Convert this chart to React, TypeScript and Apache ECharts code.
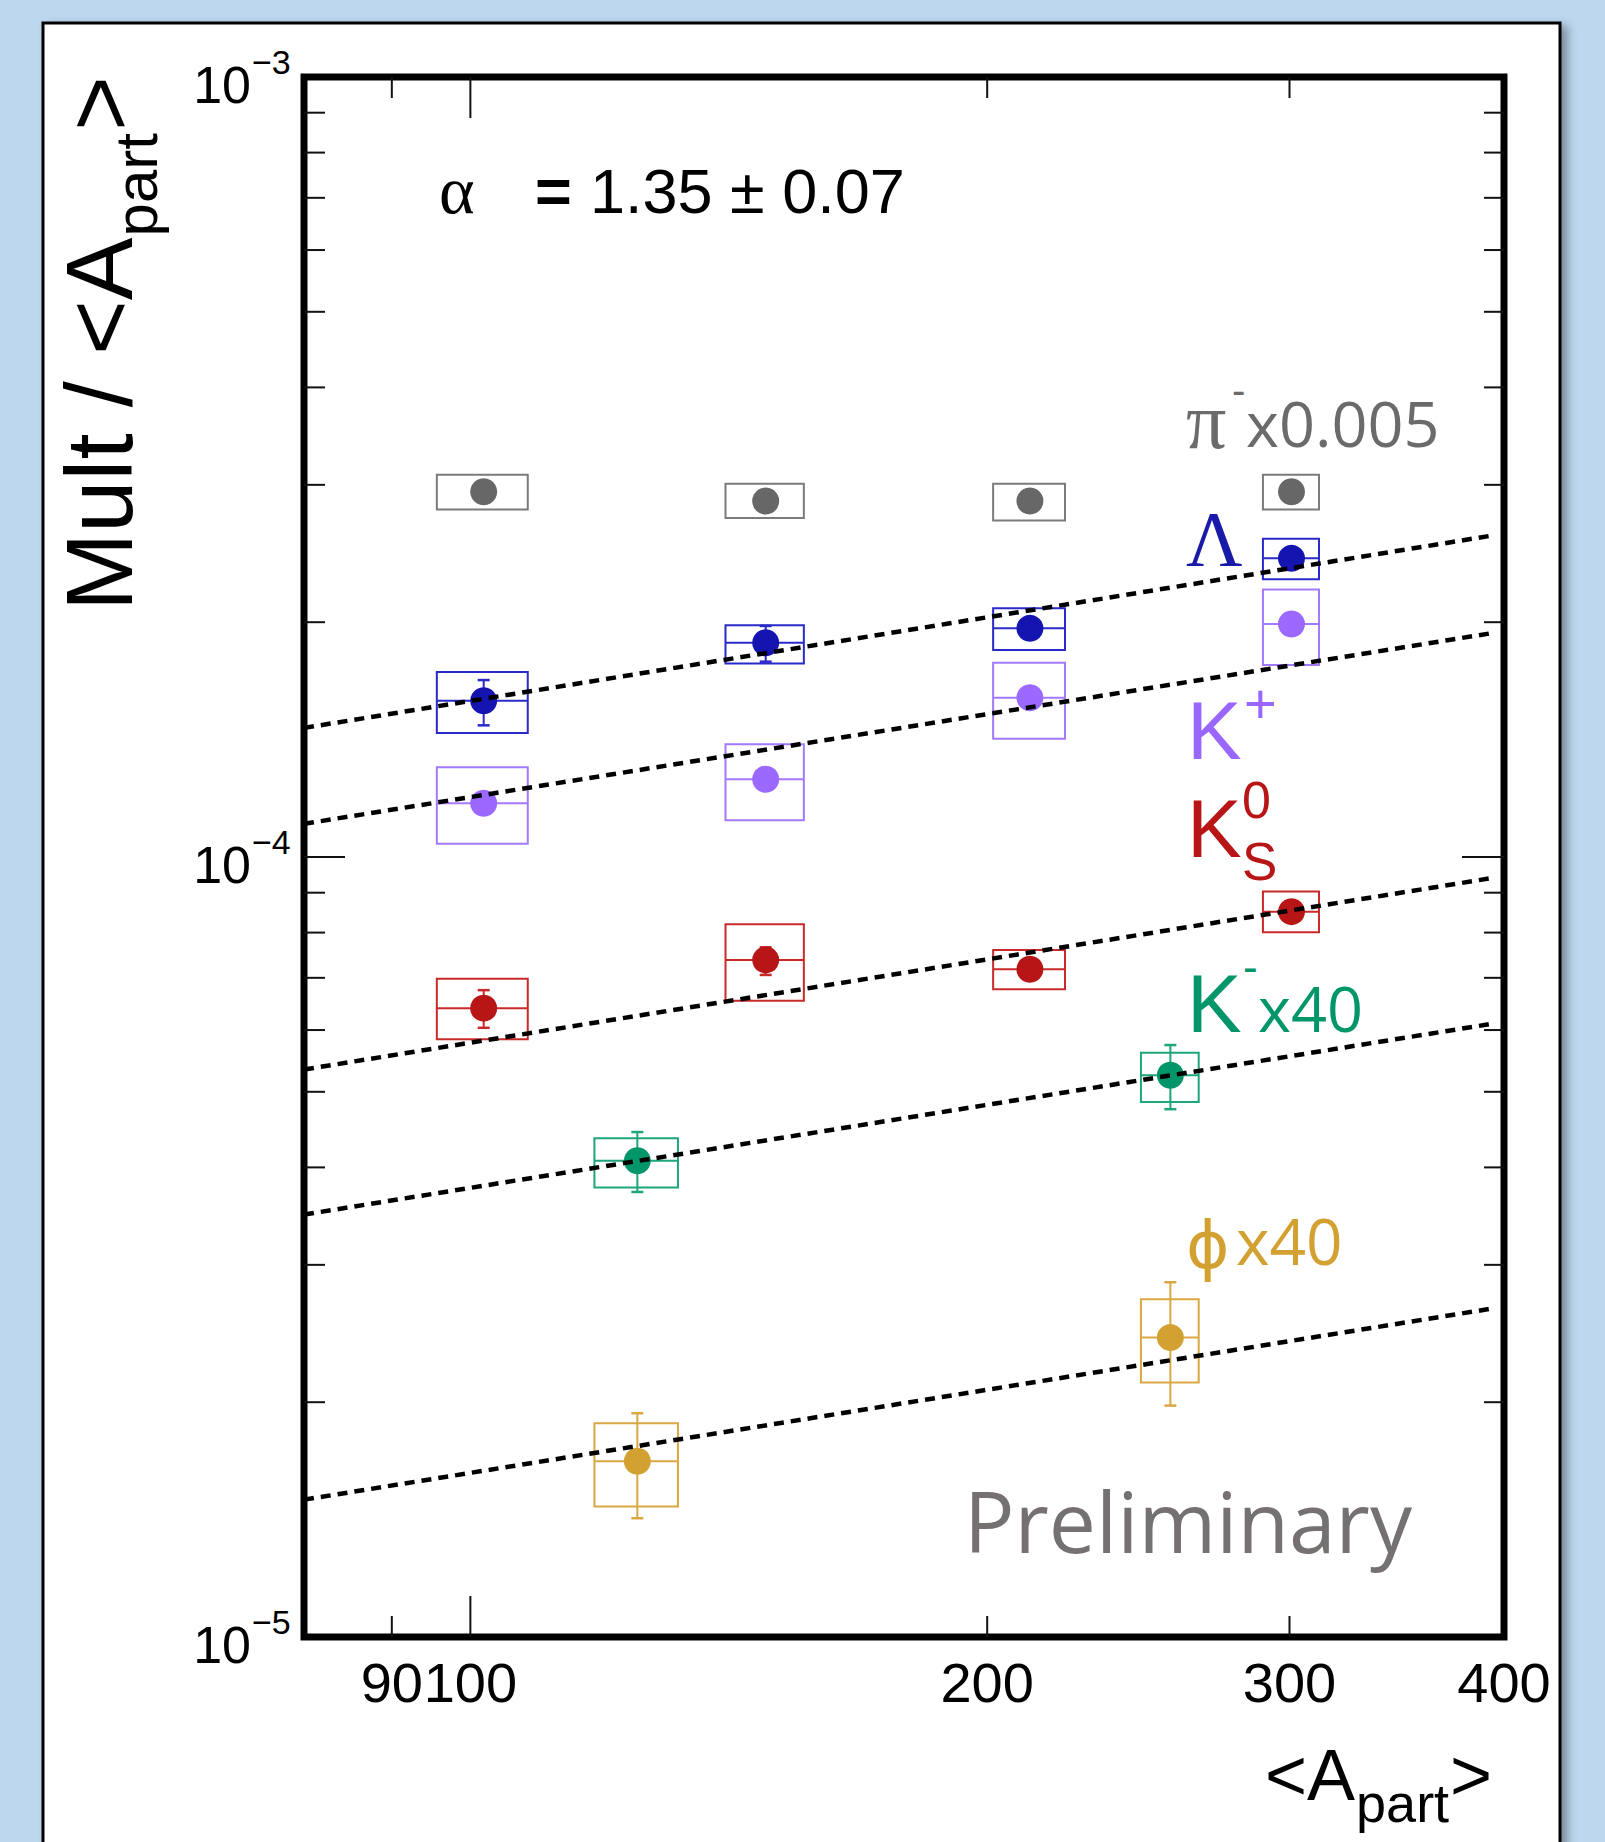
import React, { useEffect, useRef } from "react";
import * as echarts from "echarts";

// ------------------------------------------------------------------
// Axis ranges and tick values
// ------------------------------------------------------------------
const X_MIN = 80;
const X_MAX = 400;
const Y_MIN = 1e-5;
const Y_MAX = 1e-3;

const xTickLabels = [90, 100, 200, 300, 400];
const xMajorTicks = [100];
const xMinorTicks = [90, 200, 300];

const yLabelValues = [1e-5, 1e-4, 1e-3];
const yLabelExponents = ["\u22125", "\u22124", "\u22123"];
const yMajorTicks = [1e-4];
const yMinorTicks = [
  2e-5, 3e-5, 4e-5, 5e-5, 6e-5, 7e-5, 8e-5, 9e-5,
  2e-4, 3e-4, 4e-4, 5e-4, 6e-4, 7e-4, 8e-4, 9e-4,
];

// ------------------------------------------------------------------
// Data: <A_part> per centrality class and its uncertainty (box width)
// ------------------------------------------------------------------
const apart4 = [101.8, 148.6, 211.8, 300.8];
const apart4Err = [6.2, 7.8, 10.2, 11.3];
const apart2 = [125.1, 255.7];
const apart2Err = [7.0, 9.9];

// pi- x0.005
const piY = [2.94e-4, 2.86e-4, 2.86e-4, 2.94e-4];
const piSysLo = [2.79e-4, 2.72e-4, 2.7e-4, 2.79e-4];
const piSysHi = [3.09e-4, 3.01e-4, 3.01e-4, 3.09e-4];

// Lambda
const lamY = [1.586e-4, 1.882e-4, 1.964e-4, 2.415e-4];
const lamStatLo = [1.475e-4, 1.78e-4, 1.93e-4, 2.37e-4];
const lamStatHi = [1.686e-4, 1.978e-4, 2.0e-4, 2.46e-4];
const lamSysLo = [1.442e-4, 1.771e-4, 1.842e-4, 2.27e-4];
const lamSysHi = [1.727e-4, 1.982e-4, 2.084e-4, 2.558e-4];

// K+
const kpY = [1.172e-4, 1.258e-4, 1.6e-4, 1.989e-4];
const kpSysLo = [1.04e-4, 1.115e-4, 1.418e-4, 1.763e-4];
const kpSysHi = [1.303e-4, 1.395e-4, 1.774e-4, 2.203e-4];

// K0S
const k0Y = [6.4e-5, 7.38e-5, 7.18e-5, 8.51e-5];
const k0StatLo = [6.04e-5, 7.06e-5, 7.06e-5, 8.37e-5];
const k0StatHi = [6.75e-5, 7.66e-5, 7.3e-5, 8.65e-5];
const k0SysLo = [5.84e-5, 6.54e-5, 6.77e-5, 8.01e-5];
const k0SysHi = [6.98e-5, 8.2e-5, 7.6e-5, 9.03e-5];

// K- x40
const kmY = [4.08e-5, 5.25e-5];
const kmStatLo = [3.72e-5, 4.75e-5];
const kmStatHi = [4.44e-5, 5.74e-5];
const kmSysLo = [3.77e-5, 4.85e-5];
const kmSysHi = [4.36e-5, 5.61e-5];

// phi x40
const phiY = [1.68e-5, 2.42e-5];
const phiStatLo = [1.42e-5, 1.98e-5];
const phiStatHi = [1.936e-5, 2.85e-5];
const phiSysLo = [1.47e-5, 2.12e-5];
const phiSysHi = [1.88e-5, 2.71e-5];

// Power-law fits (end points)
const fitX = [80, 395];
const fitLam = [1.464e-4, 2.586e-4];
const fitKp = [1.103e-4, 1.939e-4];
const fitK0 = [5.34e-5, 9.41e-5];
const fitKm = [3.48e-5, 6.12e-5];
const fitPhi = [1.5e-5, 2.64e-5];

// ------------------------------------------------------------------
// Styling
// ------------------------------------------------------------------
const LS = "Liberation Sans";
const OS = "Open Sans";
const SERIF = "Liberation Serif";
const DJ = "DejaVu Sans";
// offset (in em) of the SVG "central" baseline above the alphabetic one
const CENTRAL: Record<string, number> = {
  [LS]: 0.3467,
  [OS]: 0.388,
  [SERIF]: 0.3374,
  [DJ]: 0.346,
};

const species = [
  { name: "pi", x: apart4, xe: apart4Err, y: piY, sysLo: piSysLo, sysHi: piSysHi, statLo: null, statHi: null, fit: null, marker: "#676767", box: "#7b7b7b", mid: false },
  { name: "Lambda", x: apart4, xe: apart4Err, y: lamY, sysLo: lamSysLo, sysHi: lamSysHi, statLo: lamStatLo, statHi: lamStatHi, fit: fitLam, marker: "#1414b0", box: "#2a2ac8", mid: true },
  { name: "Kplus", x: apart4, xe: apart4Err, y: kpY, sysLo: kpSysLo, sysHi: kpSysHi, statLo: null, statHi: null, fit: fitKp, marker: "#9b69ff", box: "#a37aff", mid: true },
  { name: "K0S", x: apart4, xe: apart4Err, y: k0Y, sysLo: k0SysLo, sysHi: k0SysHi, statLo: k0StatLo, statHi: k0StatHi, fit: fitK0, marker: "#b81616", box: "#c82a2a", mid: true },
  { name: "Kminus", x: apart2, xe: apart2Err, y: kmY, sysLo: kmSysLo, sysHi: kmSysHi, statLo: kmStatLo, statHi: kmStatHi, fit: fitKm, marker: "#00966a", box: "#1ea57b", mid: true },
  { name: "phi", x: apart2, xe: apart2Err, y: phiY, sysLo: phiSysLo, sysHi: phiSysHi, statLo: phiStatLo, statHi: phiStatHi, fit: fitPhi, marker: "#d3a032", box: "#d9a842", mid: true },
];

function txt(
  text: string,
  x: number,
  baseline: number,
  size: number,
  family: string,
  fill: string,
  opts: { align?: string; weight?: string } = {}
): any {
  const align = opts.align || "left";
  return {
    type: "text",
    x,
    y: baseline - CENTRAL[family] * size,
    z: 100,
    silent: true,
    style: {
      text,
      fontSize: size,
      fontFamily: family,
      fontWeight: opts.weight || "normal",
      fill,
      align,
      textAlign: align,
      verticalAlign: "middle",
      textVerticalAlign: "middle",
    },
  };
}

function buildOption(): any {
  const canvas = document.createElement("canvas");
  const ctx = canvas.getContext("2d") as CanvasRenderingContext2D;
  const mw = (t: string, size: number, family: string, weight = "normal") => {
    ctx.font = `${weight} ${size}px "${family}"`;
    return ctx.measureText(t).width;
  };

  const series: any[] = [];

  // axis ticks (drawn through the axes' own scales)
  series.push({
    type: "custom",
    name: "xticks",
    silent: true,
    clip: false,
    z: 6,
    data: [
      ...xMinorTicks.map((v) => [v, Y_MIN, 0]),
      ...xMajorTicks.map((v) => [v, Y_MIN, 1]),
    ],
    encode: { x: 0, y: 1 },
    renderItem: (_p: any, api: any) => {
      const v = api.value(0);
      const len = api.value(2) ? 41 : 21;
      const b = api.coord([v, Y_MIN]);
      const t = api.coord([v, Y_MAX]);
      return {
        type: "group",
        children: [
          { type: "line", shape: { x1: b[0], y1: b[1], x2: b[0], y2: b[1] - len }, style: { stroke: "#111", lineWidth: 2 } },
          { type: "line", shape: { x1: t[0], y1: t[1], x2: t[0], y2: t[1] + len }, style: { stroke: "#111", lineWidth: 2 } },
        ],
      };
    },
  });
  series.push({
    type: "custom",
    name: "yticks",
    silent: true,
    clip: false,
    z: 6,
    data: [
      ...yMinorTicks.map((v) => [X_MIN, v, 0]),
      ...yMajorTicks.map((v) => [X_MIN, v, 1]),
    ],
    encode: { x: 0, y: 1 },
    renderItem: (_p: any, api: any) => {
      const v = api.value(1);
      const major = api.value(2);
      const l = api.coord([X_MIN, v]);
      const r = api.coord([X_MAX, v]);
      return {
        type: "group",
        children: [
          { type: "line", shape: { x1: l[0], y1: l[1], x2: l[0] + (major ? 41 : 21), y2: l[1] }, style: { stroke: "#111", lineWidth: 2 } },
          { type: "line", shape: { x1: r[0], y1: r[1], x2: r[0] - (major ? 42 : 20), y2: r[1] }, style: { stroke: "#111", lineWidth: 2 } },
        ],
      };
    },
  });

  // tick labels
  series.push({
    type: "custom",
    name: "xlabels",
    silent: true,
    clip: false,
    z: 6,
    data: xTickLabels.map((v) => [v, Y_MIN]),
    encode: { x: 0, y: 1 },
    renderItem: (_p: any, api: any) => {
      const v = api.value(0);
      const p = api.coord([v, Y_MIN]);
      return txt(String(v), p[0], p[1] + 65, 56, LS, "#000", { align: "center" });
    },
  });
  series.push({
    type: "custom",
    name: "ylabels",
    silent: true,
    clip: false,
    z: 6,
    data: yLabelValues.map((v, i) => [X_MIN, v, i]),
    encode: { x: 0, y: 1 },
    renderItem: (_p: any, api: any) => {
      const v = api.value(1);
      const i = api.value(2);
      const p = api.coord([X_MIN, v]);
      return {
        type: "group",
        children: [
          txt("10", p[0] - 53, p[1] + 26, 52, LS, "#000", { align: "right" }),
          txt(yLabelExponents[i], p[0] - 52, p[1] - 3, 34, LS, "#000", { align: "left" }),
        ],
      };
    },
  });

  species.forEach((s) => {
    const boxColor = s.box;
    const mid = s.mid;
    series.push({
      type: "custom",
      name: s.name + "-sys",
      silent: true,
      clip: false,
      z: 2,
      data: s.x.map((x, i) => [x, s.y[i], s.xe[i], s.sysLo[i], s.sysHi[i]]),
      encode: { x: 0, y: 1 },
      renderItem: (_p: any, api: any) => {
        const x = api.value(0);
        const y = api.value(1);
        const xe = api.value(2);
        const lo = api.value(3);
        const hi = api.value(4);
        const a = api.coord([x - xe, hi]);
        const b = api.coord([x + xe, lo]);
        const m = api.coord([x, y]);
        const children: any[] = [
          { type: "rect", shape: { x: a[0], y: a[1], width: b[0] - a[0], height: b[1] - a[1] }, style: { fill: "none", stroke: boxColor, lineWidth: 2 } },
        ];
        if (mid) {
          children.push({ type: "line", shape: { x1: a[0], y1: m[1], x2: b[0], y2: m[1] }, style: { stroke: boxColor, lineWidth: 2 } });
        }
        return { type: "group", children };
      },
    });
    if (s.statLo && s.statHi) {
      const lo = s.statLo;
      const hi = s.statHi;
      series.push({
        type: "custom",
        name: s.name + "-stat",
        silent: true,
        clip: false,
        z: 3,
        data: s.x.map((x, i) => [x, s.y[i], lo[i], hi[i]]),
        encode: { x: 0, y: 1 },
        renderItem: (_p: any, api: any) => {
          const x = api.value(0);
          const a = api.coord([x, api.value(3)]);
          const b = api.coord([x, api.value(2)]);
          const st = { stroke: boxColor, lineWidth: 2 };
          return {
            type: "group",
            children: [
              { type: "line", shape: { x1: a[0], y1: a[1], x2: b[0], y2: b[1] }, style: st },
              { type: "line", shape: { x1: a[0] - 6, y1: a[1], x2: a[0] + 6, y2: a[1] }, style: { ...st, lineWidth: 2.5 } },
              { type: "line", shape: { x1: b[0] - 6, y1: b[1], x2: b[0] + 6, y2: b[1] }, style: { ...st, lineWidth: 2.5 } },
            ],
          };
        },
      });
    }
    series.push({
      type: "scatter",
      name: s.name,
      silent: true,
      z: 4,
      symbol: "circle",
      symbolSize: 27,
      itemStyle: { color: s.marker, opacity: 1 },
      data: s.x.map((x, i) => [x, s.y[i]]),
    });
    if (s.fit) {
      const f = s.fit;
      series.push({
        type: "line",
        name: s.name + "-fit",
        silent: true,
        z: 5,
        symbol: "none",
        showSymbol: false,
        lineStyle: { color: "#000", width: 4.5, type: [10, 7] },
        data: fitX.map((x, i) => [x, f[i]]),
      });
    }
  });

  // ---------------- graphic annotations ----------------
  const yTitleW1 = mw("Mult / <A", 94, LS);
  const yTitleW2 = mw("part", 60, LS);
  const xTitleW1 = mw("<A", 72, LS);
  const xTitleW2 = mw("part", 54, LS);

  const graphic: any[] = [
    {
      type: "rect",
      z: -10,
      silent: true,
      shape: { x: 43, y: 23, width: 1517, height: 1900 },
      style: {
        fill: "#ffffff",
        stroke: "#000",
        lineWidth: 3,
        shadowBlur: 10,
        shadowOffsetX: 6,
        shadowOffsetY: 4,
        shadowColor: "rgba(0,0,0,0.35)",
      },
    },
    // y title (rotated)
    {
      type: "group",
      x: 132,
      y: 611,
      rotation: Math.PI / 2,
      z: 100,
      children: [
        txt("Mult / <A", 0, 0, 94, LS, "#000"),
        txt("part", yTitleW1 + 1, 25, 60, LS, "#000"),
        txt(">", yTitleW1 + yTitleW2 + 3, 0, 94, LS, "#000"),
      ],
    },
    // x title
    txt("<A", 1265, 1800, 72, LS, "#000"),
    txt("part", 1265 + xTitleW1 + 1, 1822, 54, LS, "#000"),
    txt(">", 1265 + xTitleW1 + xTitleW2 + 2, 1800, 72, LS, "#000"),
    // alpha annotation
    txt("\u03b1", 439, 213, 68, SERIF, "#000"),
    txt("=", 535, 213, 63, LS, "#000", { weight: "bold" }),
    txt("1.35 \u00b1 0.07", 590, 213, 63, LS, "#000"),
    // species labels
    txt("\u03c0", 1186, 448, 80, SERIF, "#6b6b6b"),
    txt("-", 1232, 404, 40, LS, "#6b6b6b"),
    txt("x0.005", 1246, 447, 63, OS, "#6b6b6b"),
    txt("\u039b", 1186, 565, 78, SERIF, "#1a1aa8"),
    txt("K", 1187, 759, 82, LS, "#9966ff"),
    txt("+", 1244, 703 + CENTRAL[LS] * 56, 56, LS, "#9966ff"),
    txt("K", 1187, 857, 82, LS, "#b81616"),
    txt("0", 1242, 800 + CENTRAL[LS] * 52, 52, LS, "#b81616"),
    txt("S", 1242, 861 + CENTRAL[LS] * 53, 53, LS, "#b81616"),
    txt("K", 1187, 1032, 82, LS, "#00966a"),
    txt("-", 1243, 966 + CENTRAL[LS] * 44, 44, LS, "#00966a"),
    txt("x40", 1258, 1032, 63, OS, "#00966a"),
    txt("\u03d5", 1186, 1245 + CENTRAL[DJ] * 66, 66, DJ, "#d3a032"),
    txt("x40", 1236, 1265, 64, OS, "#d3a032"),
    txt("Preliminary", 964, 1553, 84, OS, "#767171"),
  ];

  return {
    animation: false,
    backgroundColor: "#BDD7EE",
    grid: {
      left: 304,
      top: 77,
      width: 1200,
      height: 1560,
      show: true,
      borderColor: "#000",
      borderWidth: 7,
      backgroundColor: "transparent",
      z: 1,
    },
    xAxis: {
      type: "log",
      logBase: 10,
      min: X_MIN,
      max: X_MAX,
      axisLine: { show: false },
      axisTick: { show: false },
      axisLabel: { show: false },
      splitLine: { show: false },
      minorTick: { show: false },
    },
    yAxis: {
      type: "log",
      logBase: 10,
      min: Y_MIN,
      max: Y_MAX,
      axisLine: { show: false },
      axisTick: { show: false },
      axisLabel: { show: false },
      splitLine: { show: false },
      minorTick: { show: false },
    },
    graphic,
    series,
  };
}

export default function App() {
  const ref = useRef<HTMLDivElement>(null);
  useEffect(() => {
    if (!ref.current) return;
    const chart = echarts.init(ref.current, undefined, { renderer: "svg" });
    chart.setOption(buildOption());
    return () => chart.dispose();
  }, []);
  return (
    <div
      ref={ref}
      style={{ position: "absolute", left: 0, top: 0, width: 1605, height: 1842 }}
    />
  );
}
